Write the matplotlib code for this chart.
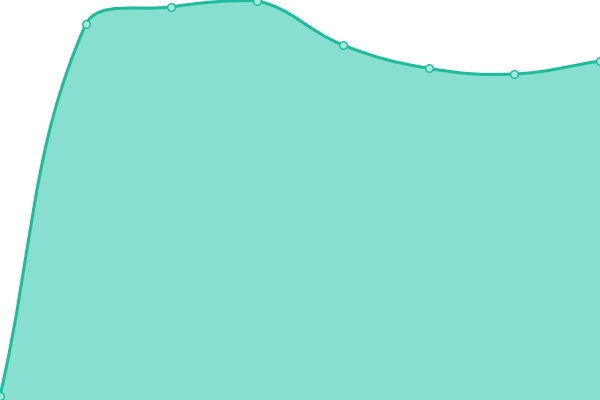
import numpy as np
import matplotlib
matplotlib.use('Agg')
import matplotlib.pyplot as plt
from matplotlib.path import Path
from matplotlib.patches import PathPatch

categories = ['1', '2', '3', '4', '5', '6', '7', '8']
values = [4, 375.7, 393.2, 399.2, 355, 331.7, 326, 339]
tension = 0.4

line_color = '#1dbd9c'
fill_color = '#89dfcf'
marker_face = '#a6e8db'

fig = plt.figure(figsize=(6, 4), dpi=100)
ax = fig.add_axes([0, 0, 1, 1])
ax.set_xlim(0, len(categories) - 1)
ax.set_ylim(0, 400)
ax.axis('off')

x = np.arange(len(categories))
pts = ax.transData.transform(np.column_stack([x, values]))
x0b, y0b, x1b, y1b = ax.bbox.extents
n = len(pts)
cp_prev = pts.copy()
cp_next = pts.copy()
prev = pts[0]
for i in range(n):
    cur = pts[i]
    nxt = pts[min(i + 1, n - 1)]
    d01 = np.hypot(*(cur - prev))
    d12 = np.hypot(*(nxt - cur))
    tot = d01 + d12
    s01 = d01 / tot if tot else 0.0
    s12 = d12 / tot if tot else 0.0
    cp_prev[i] = cur - tension * s01 * (nxt - prev)
    cp_next[i] = cur + tension * s12 * (nxt - prev)
    prev = cur
for arr in (cp_prev, cp_next):
    arr[:, 0] = np.clip(arr[:, 0], x0b, x1b)
    arr[:, 1] = np.clip(arr[:, 1], y0b, y1b)

inv = ax.transData.inverted()
verts = [pts[0]]
codes = [Path.MOVETO]
for i in range(n - 1):
    verts += [cp_next[i], cp_prev[i + 1], pts[i + 1]]
    codes += [Path.CURVE4] * 3
verts = inv.transform(np.array(verts))

line_path = Path(verts, codes)
fill_verts = np.vstack([verts, [[x[-1], 0], [x[0], 0], [x[0], 0]]])
fill_codes = codes + [Path.LINETO, Path.LINETO, Path.CLOSEPOLY]
fill_path = Path(fill_verts, fill_codes)

ax.add_patch(PathPatch(fill_path, facecolor=fill_color, edgecolor='none', zorder=1))
ax.add_patch(PathPatch(line_path, facecolor='none', edgecolor=line_color, lw=2.2, zorder=2,
                       capstyle='round', joinstyle='round'))
ax.plot(x, values, 'o', ms=5.5, mfc=marker_face, mec=line_color, mew=1, zorder=3)

fig.savefig('out.png', dpi=100)
